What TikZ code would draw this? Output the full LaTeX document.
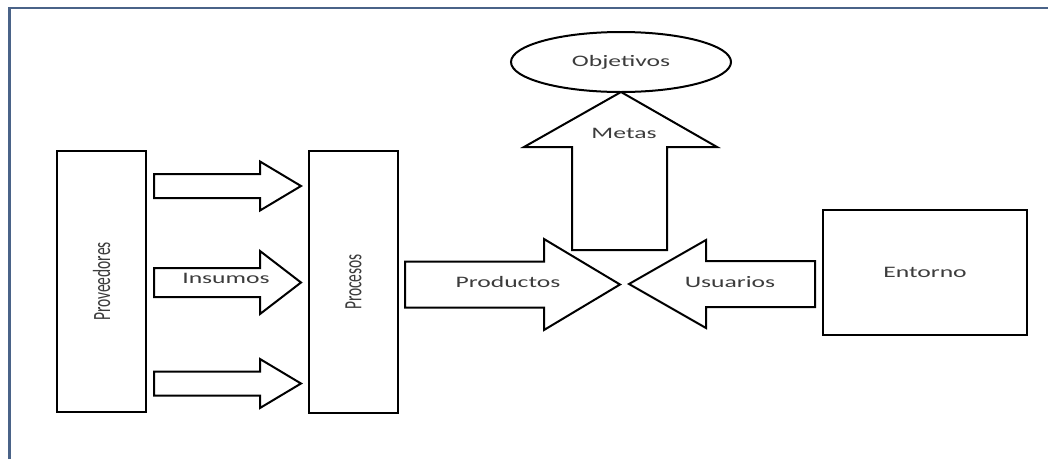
\documentclass[tikz,border=0pt]{standalone}
\usepackage{fontspec}
\usepackage{graphicx}
\setmainfont{Carlito}
\newfontfamily\anchafont[FakeStretch=1.6]{Carlito}
\usetikzlibrary{shapes.geometric}
\definecolor{marco}{HTML}{4A6388}
\definecolor{texto}{HTML}{3C3C3C}
\tikzset{
        caja/.style={draw=black, line width=2pt, fill=white, inner sep=0pt, text=texto},
        elipse/.style={ellipse, draw=black, line width=2pt, fill=white, inner sep=0pt, text=texto},
        flecha/.style={draw=black, line width=2pt, fill=white, line join=miter},
        etiqueta/.style={text=texto, inner sep=0pt, font=\anchafont\fontsize{16}{18}\selectfont},
        girada/.style={rotate=90, font=\fontsize{15.5pt}{18pt}\selectfont}
          }
% texto girado con letras altas
\newcommand{\alta}[1]{\scalebox{1}[1.6]{#1}}
% flecha de bloque horizontal: x inicio, x cabeza, x punta, y centro, medio cuerpo, media cabeza
\newcommand{\bloque}[6]{%
  \draw[flecha] (#1,#4-#5) -- (#2,#4-#5) -- (#2,#4-#6) -- (#3,#4)
    -- (#2,#4+#6) -- (#2,#4+#5) -- (#1,#4+#5) -- cycle;}

\begin{document}
\begin{tikzpicture}[x=1pt, y=-1pt]
            \useasboundingbox (0,0) rectangle (1048,459);
            \draw[marco, line width=2.5pt] (9.5,459) -- (9.5,8) -- (1048,8);

            % cajas
            \node[caja, girada, minimum width=261pt, minimum height=89pt] (prov) at (101.5,281.5) {\alta{Proveedores}};
            \node[caja, girada, minimum width=262pt, minimum height=89pt] (proc) at (353.5,282) {\alta{Procesos}};
            \node[caja, minimum width=204pt, minimum height=125pt, font=\anchafont\fontsize{16}{18}\selectfont] (entorno) at (925,272.5) {Entorno};
            \node[elipse, minimum width=220pt, minimum height=60pt, font=\anchafont\fontsize{16}{18}\selectfont] (objetivos) at (621,62) {Objetivos};

            % flechas
            \bloque{154}{260}{301}{186}{12}{24.5}
            \bloque{154}{260}{301}{282.5}{14.5}{31.5}
            \bloque{154}{260}{301}{383.5}{12}{24.5}
            \draw[flecha] (572,250) -- (572,147) -- (524,147) -- (621,92)
              -- (717,147) -- (667,147) -- (667,250) -- cycle;
            \bloque{405}{544}{620}{284.5}{23}{45.5}
            \bloque{815}{706}{629}{284}{23}{44}

            % textos
            \node[etiqueta] (insumos) at (226,278) {Insumos};
            \node[etiqueta] (productos) at (508,282) {Productos};
            \node[etiqueta] (usuarios) at (730,282) {Usuarios};
            \node[etiqueta] (metas) at (624,133) {Metas};
\end{tikzpicture}
\end{document}
